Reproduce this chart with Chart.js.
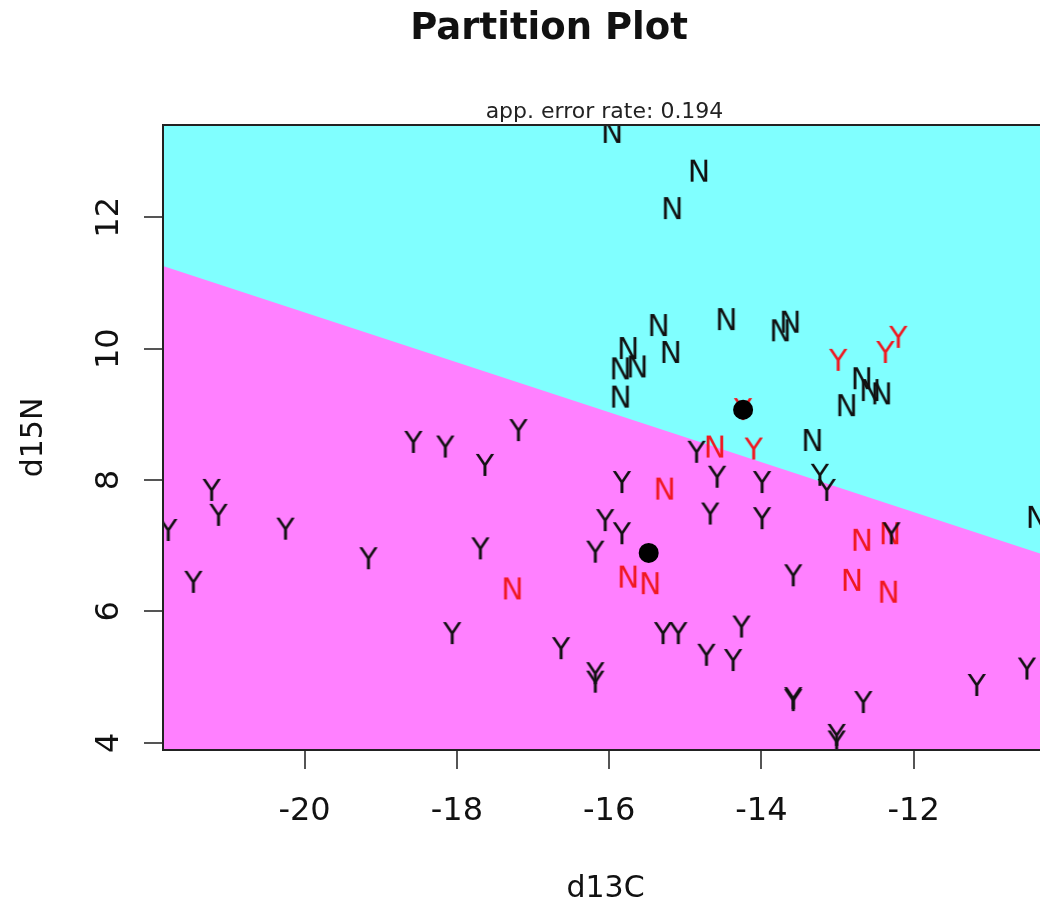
<!DOCTYPE html>
<html>
<head>
<meta charset="utf-8">
<script src="https://cdn.jsdelivr.net/npm/chart.js@4/dist/chart.umd.min.js"></script>
<style>
  html, body { margin: 0; padding: 0; background: #fff; }
  canvas { display: block; }
</style>
</head>
<body>
<canvas id="partition" width="1040" height="901"></canvas>
<script>
// axis ranges and ticks (d13C on x, d15N on y)
const xRange = [-21.86, -10.34];
const yRange = [3.89, 13.405];
const xTicks = [-20, -18, -16, -14, -12];
const yTicks = [4, 6, 8, 10, 12];

// class boundary (cyan above = N, magenta below = Y)
const boundaryX = [-21.86, -10.34];
const boundaryY = [11.26, 6.88];

// observations, black = correctly classified, red = misclassified
const nRight = [
  [-15.96, 13.30], [-14.82, 12.71], [-15.17, 12.14], [-15.35, 10.36], [-14.46, 10.45],
  [-13.75, 10.28], [-13.62, 10.41], [-15.75, 10.01], [-15.19, 9.95], [-15.85, 9.70],
  [-15.63, 9.73], [-15.85, 9.27], [-12.68, 9.55], [-12.57, 9.37], [-12.42, 9.32],
  [-12.88, 9.14], [-13.33, 8.61], [-10.38, 7.44]
];
const nWrong = [
  [-14.61, 8.51], [-15.27, 7.87], [-15.75, 6.53], [-15.46, 6.43], [-12.68, 7.09],
  [-12.31, 7.19], [-12.81, 6.48], [-12.33, 6.30], [-17.27, 6.35]
];
const yRight = [
  [-14.85, 8.43], [-15.83, 7.97], [-14.58, 8.05], [-13.99, 7.97], [-13.23, 8.08],
  [-13.14, 7.85], [-16.05, 7.39], [-15.83, 7.19], [-16.18, 6.91], [-14.67, 7.49],
  [-13.99, 7.42], [-13.58, 6.55], [-12.29, 7.19], [-15.29, 5.67], [-15.09, 5.67],
  [-14.26, 5.77], [-14.72, 5.34], [-14.37, 5.26], [-16.18, 5.06], [-16.18, 4.93],
  [-13.58, 4.68], [-13.58, 4.65], [-12.66, 4.62], [-13.01, 4.12], [-13.01, 4.02],
  [-11.17, 4.88], [-10.51, 5.13], [-18.57, 8.58], [-18.15, 8.51], [-17.19, 8.76],
  [-17.63, 8.23], [-21.22, 7.85], [-21.13, 7.47], [-21.79, 7.24], [-20.25, 7.26],
  [-21.46, 6.45], [-19.16, 6.81], [-17.69, 6.96], [-18.06, 5.67], [-16.63, 5.44]
];
const yWrong = [
  [-12.99, 9.83], [-12.37, 9.95], [-12.20, 10.18], [-14.10, 8.48], [-14.24, 9.08]
];
const groupMeans = [[-14.24, 9.07], [-15.48, 6.89]];

const FONT = '"DejaVu Sans", sans-serif';

// letter used as point marker
const glyph = (letter, color) => {
    const c = document.createElement('canvas');
    c.width = 32;
    c.height = 32;
    const g = c.getContext('2d');
    g.font = '30px ' + FONT;
    g.fillStyle = color;
    g.textAlign = 'center';
    g.textBaseline = 'alphabetic';
    g.fillText(letter, 16, 27);
    return c;
};

const toXY = arr => arr.map(p => ({ x: p[0], y: p[1] }));

const letterSet = (points, letter, color) => ({
    data: toXY(points),
    pointStyle: glyph(letter, color),
    pointRadius: 12,
    clip: 0,
    order: 2
});

const rPlot = {
    id: 'rPlot',
    beforeDatasetsDraw(chart) {
        const { ctx, chartArea: a } = chart;
        ctx.save();
        ctx.fillStyle = '#80ffff';
        ctx.fillRect(a.left, a.top, a.right - a.left, a.bottom - a.top);
        ctx.restore();
    },
    afterDraw(chart) {
        const { ctx, chartArea: a } = chart;
        const xs = chart.scales.x, ys = chart.scales.y;
        ctx.save();
        // box
        ctx.strokeStyle = '#222';
        ctx.lineWidth = 2;
        ctx.beginPath();
        ctx.moveTo(a.right, a.top);
        ctx.lineTo(a.left, a.top);
        ctx.lineTo(a.left, a.bottom);
        ctx.lineTo(a.right, a.bottom);
        ctx.stroke();

        // tick marks
        ctx.strokeStyle = '#555';
        ctx.beginPath();
        xTicks.forEach(v => {
            const px = Math.round(xs.getPixelForValue(v));
            ctx.moveTo(px, a.bottom + 1);
            ctx.lineTo(px, a.bottom + 19);
        });
        yTicks.forEach(v => {
            const py = Math.round(ys.getPixelForValue(v));
            ctx.moveTo(a.left - 1, py);
            ctx.lineTo(a.left - 19, py);
        });
        ctx.stroke();

        ctx.fillStyle = '#111';
        ctx.textAlign = 'center';
        ctx.textBaseline = 'alphabetic';

        // x tick labels + title
        ctx.font = '32px ' + FONT;
        xTicks.forEach(v => ctx.fillText(String(v), xs.getPixelForValue(v), 820));
        ctx.font = '30px ' + FONT;
        ctx.fillText('d13C', (a.left + a.right) / 2 + 4, 897);

        // y tick labels (parallel to axis)
        ctx.font = '32px ' + FONT;
        yTicks.forEach(v => {
            ctx.save();
            ctx.translate(118, ys.getPixelForValue(v));
            ctx.rotate(-Math.PI / 2);
            ctx.fillText(String(v), 0, 0);
            ctx.restore();
        });
        ctx.save();
        ctx.translate(42, (a.top + a.bottom) / 2);
        ctx.rotate(-Math.PI / 2);
        ctx.font = '30px ' + FONT;
        ctx.fillText('d15N', 0, 0);
        ctx.restore();

        // titles
        ctx.font = 'bold 37px ' + FONT;
        ctx.fillText('Partition Plot', 549, 39);
        ctx.font = '22px ' + FONT;
        ctx.fillStyle = '#222';
        ctx.fillText('app. error rate: 0.194', 604.5, 118);
        ctx.restore();
    }
};

new Chart(document.getElementById('partition'), {
    type: 'scatter',
    data: {
        datasets: [
            {
                type: 'line',
                data: boundaryX.map((x, i) => ({ x: x, y: boundaryY[i] })),
                fill: 'start',
                backgroundColor: '#ff80ff',
                borderColor: 'rgba(0,0,0,0)',
                pointRadius: 0,
                order: 5
            },
            letterSet(nRight, 'N', '#111'),
            letterSet(yRight, 'Y', '#111'),
            letterSet(yWrong, 'Y', '#f01820'),
            letterSet(nWrong, 'N', '#f01820'),
            {
                data: toXY(groupMeans),
                pointRadius: 10,
                backgroundColor: '#000',
                borderWidth: 0,
                clip: 0,
                order: 0
            }
        ]
    },
    options: {
        responsive: false,
        animation: false,
        devicePixelRatio: 1,
        events: [],
        layout: { autoPadding: false, padding: { left: 163, top: 125, right: 0, bottom: 151 } },
        scales: {
            x: { type: 'linear', min: xRange[0], max: xRange[1], display: false },
            y: { type: 'linear', min: yRange[0], max: yRange[1], display: false }
        },
        plugins: {
            legend: { display: false },
            tooltip: { enabled: false }
        }
    },
    plugins: [rPlot]
});
</script>
</body>
</html>
